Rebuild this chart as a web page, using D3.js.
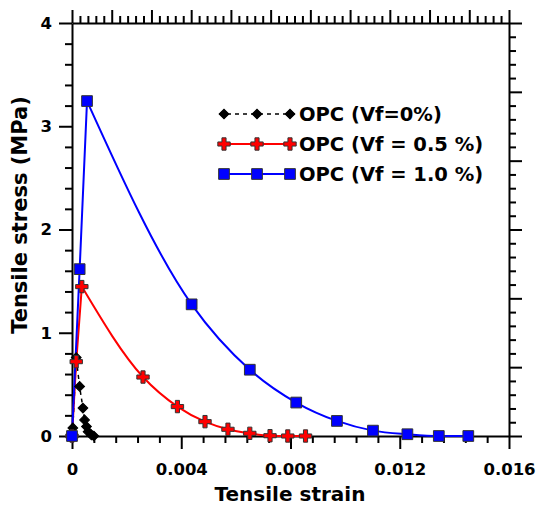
<!DOCTYPE html>
<html><head><meta charset="utf-8">
<script src="https://cdn.jsdelivr.net/npm/d3@7"></script>
<style>body{margin:0;background:#fff}svg{display:block}</style>
</head><body><svg id="c" width="536" height="505"></svg>
<script>
// Data (strain, stress in MPa)
const strain0 = [0, 0.00003, 0.000156, 0.00028, 0.0004, 0.00046, 0.00053, 0.00059, 0.00071, 0.0008];
const stress0 = [0, 0.078, 0.76, 0.48, 0.27, 0.156, 0.091, 0.042, 0.01, 0.0];
const strain05 = [0, 0.000155, 0.00036, 0.0026, 0.00386, 0.00487, 0.00571, 0.00651, 0.00725, 0.0079, 0.00855];
const stress05 = [0, 0.72, 1.447, 0.571, 0.285, 0.139, 0.065, 0.026, 0.003, 0.0, 0.0];
const strain10 = [0, 0.00028, 0.00055, 0.00438, 0.00651, 0.00821, 0.0097, 0.01102, 0.01228, 0.01343, 0.01451];
const stress10 = [0, 1.616, 3.244, 1.275, 0.642, 0.324, 0.146, 0.052, 0.017, 0.0, 0.0];
const xTickLabels = ["0", "0.004", "0.008", "0.012", "0.016"];
const yTickLabels = ["0", "1", "2", "3", "4"];
const seriesNames = ["OPC (Vf=0%)", "OPC (Vf = 0.5 %)", "OPC (Vf = 1.0 %)"];

const svg = d3.select("#c");
const L = 72, R = 509, T = 23, B = 436;
const x = d3.scaleLinear().domain([0, 0.016]).range([L, R]);
const y = d3.scaleLinear().domain([0, 4]).range([B, T]);
const xTop = d3.scaleLinear().domain([0, 11]).range([L, R]);
const yRight = d3.scaleLinear().domain([0, 6]).range([B, T]);

const font = "'DejaVu Sans', sans-serif";

function addAxis(axisFn, scale, majors, minors, transform, labels) {
  const gMin = svg.append("g").attr("transform", transform)
    .call(axisFn(scale).tickValues(minors).tickSize(7).tickFormat(""));
  gMin.select(".domain").remove();
  gMin.selectAll("line").attr("stroke", "#000").attr("stroke-width", 2);
  const g = svg.append("g").attr("transform", transform)
    .call(axisFn(scale).tickValues(majors).tickSize(13).tickSizeOuter(0)
      .tickFormat((d, i) => labels ? labels[i] : ""));
  g.select(".domain").attr("stroke", "#000").attr("stroke-width", 2);
  g.selectAll("line").attr("stroke", "#000").attr("stroke-width", 2);
  g.selectAll("text").attr("font-family", font).attr("font-size", 16.5)
    .attr("font-weight", "bold").attr("fill", "#000");
  return g;
}

const xMaj = d3.range(0, 5).map(i => i * 0.004);
const xMin = d3.range(0, 21).map(i => i * 0.0008).filter((d, i) => i % 5 !== 0);
const yMaj = d3.range(0, 5);
const yMin = d3.range(0, 21).map(i => i * 0.2).filter((d, i) => i % 5 !== 0);
const tMaj = d3.range(0, 12);
const tMin = d3.range(0, 56).map(i => i * 0.2).filter((d, i) => i % 5 !== 0);
const rMaj = d3.range(0, 7);
const rMin = d3.range(0, 31).map(i => i * 0.2).filter((d, i) => i % 5 !== 0);

const gx = addAxis(d3.axisBottom, x, xMaj, xMin, `translate(0,${B})`, xTickLabels);
gx.selectAll("text").attr("dy", "1.4em");
const gy = addAxis(d3.axisLeft, y, yMaj, yMin, `translate(${L},0)`, yTickLabels);
gy.selectAll("text").attr("dx", "-0.25em");
addAxis(d3.axisTop, xTop, tMaj, tMin, `translate(0,${T})`, null);
addAxis(d3.axisRight, yRight, rMaj, rMin, `translate(${R},0)`, null);

// axis titles
svg.append("text").attr("x", 290).attr("y", 501).attr("text-anchor", "middle")
  .attr("font-family", font).attr("font-size", 20).attr("font-weight", "bold").text("Tensile strain");
svg.append("text").attr("transform", "translate(27,215) rotate(-90)").attr("text-anchor", "middle")
  .attr("font-family", font).attr("font-size", 21).attr("font-weight", "bold").text("Tensile stress (MPa)");

const plot = svg.append("g");
const lineLin = d3.line().x(d => x(d[0])).y(d => y(d[1]));
const lineSmooth = d3.line().x(d => x(d[0])).y(d => y(d[1])).curve(d3.curveMonotoneX);

const s0 = strain0.map((d, i) => [d, stress0[i]]);
const s05 = strain05.map((d, i) => [d, stress05[i]]);
const s10 = strain10.map((d, i) => [d, stress10[i]]);

function drawSeries(data, color, width, dash) {
  const pk = d3.maxIndex(data, d => d[1]);
  const d = lineLin(data.slice(0, pk + 1)) + lineSmooth(data.slice(pk)).replace(/^M[^CLZ]*/, m => "L" + m.slice(1));
  plot.append("path").attr("d", d).attr("fill", "none").attr("stroke", color)
    .attr("stroke-width", width).attr("stroke-dasharray", dash).attr("stroke-linejoin", "round");
}
drawSeries(s0, "#000", 1.5, "4,4");
drawSeries(s05, "#ff0000", 2, null);
drawSeries(s10, "#0000ff", 2, null);

const diamond = d3.symbol().type(d3.symbolSquare).size(48)();
const cross = d3.symbol().type(d3.symbolCross).size(85)();
const square = d3.symbol().type(d3.symbolSquare).size(115)();

function markers(data, path, fill, stroke, rot) {
  plot.selectAll(null).data(data).enter().append("path").attr("d", path)
    .attr("transform", d => `translate(${x(d[0])},${y(d[1])})${rot ? " rotate(45)" : ""}`)
    .attr("fill", fill).attr("stroke", stroke).attr("stroke-width", 1);
}
markers(s0, diamond, "#000", "#000", true);
markers(s05, cross, "#ff0000", "#333", false);
markers(s10, square, "#0000ff", "#333", false);

// legend
const legY = [114, 144, 174];
const legMx = [224, 257, 290];
const legStyles = [
  {stroke: "#000", dash: "4,4", w: 1.5, path: diamond, fill: "#000", ms: "#000", rot: true},
  {stroke: "#ff0000", dash: null, w: 2, path: cross, fill: "#ff0000", ms: "#333", rot: false},
  {stroke: "#0000ff", dash: null, w: 2, path: square, fill: "#0000ff", ms: "#333", rot: false}
];
seriesNames.forEach((name, i) => {
  const st = legStyles[i];
  const g = svg.append("g");
  g.append("line").attr("x1", 219).attr("x2", 295).attr("y1", legY[i]).attr("y2", legY[i])
    .attr("stroke", st.stroke).attr("stroke-width", st.w).attr("stroke-dasharray", st.dash);
  legMx.forEach(mx => g.append("path").attr("d", st.path)
    .attr("transform", `translate(${mx},${legY[i]})${st.rot ? " rotate(45)" : ""}`)
    .attr("fill", st.fill).attr("stroke", st.ms).attr("stroke-width", 1));
  g.append("text").attr("x", 299).attr("y", legY[i]).attr("dy", "0.36em")
    .attr("font-family", font).attr("font-size", 19.5).attr("font-weight", "bold").text(name);
});
</script></body></html>
